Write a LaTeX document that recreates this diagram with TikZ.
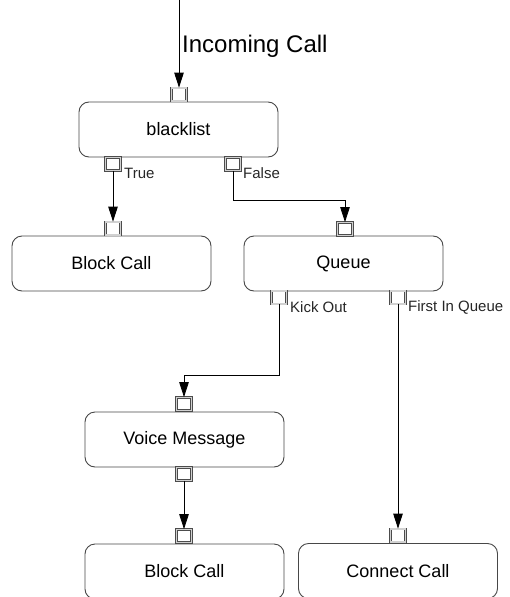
\documentclass[tikz,border=0pt]{standalone}
\usepackage{fontspec}
\setmainfont{Liberation Sans}
\usetikzlibrary{arrows.meta}

\tikzset{
  stepbox/.style={rectangle, rounded corners=10pt, draw=black!72, line width=0.9pt,
    fill=white, minimum width=199pt, minimum height=55pt, inner sep=0pt,
    font=\fontsize{18}{20}\selectfont},
  port/.style={rectangle, inner sep=0pt, minimum width=15pt, minimum height=13pt,
    draw=black!70, double=black!18, double distance=1.4pt, line width=0.75pt, fill=white},
  wire/.style={draw=black, line width=0.8pt},
  flow/.style={wire, -{Triangle[length=15pt,width=9.5pt]}},
  tag/.style={font=\fontsize{15}{17}\selectfont, inner sep=0pt, anchor=west, text=black!85},
}

\begin{document}
\begin{tikzpicture}[x=1pt,y=-1pt]
  \useasboundingbox (0,0) rectangle (509,597);
  \clip (0,0) rectangle (509,597);

  % processing steps
  \node[stepbox] (blacklist) at (178.5,129.5) {blacklist};
  \node[stepbox] (block1)    at (111.5,263.5) {Block Call};
  \node[stepbox] (queue)     at (343.5,263.5) {Queue};
  \node[stepbox] (voice)     at (184.5,439.5) {Voice Message};
  \node[stepbox] (block2)    at (184.5,571.5) {Block Call};
  \node[stepbox] (connect)   at (398,571)     {Connect Call};

  % input and output ports
  \node[port] (bl-in)    at (179,94.5) {};
  \node[port] (bl-true)  at (113,164)  {};
  \node[port] (bl-false) at (233,164)  {};
  \node[port] (b1-in)    at (113,228.5) {};
  \node[port] (q-in)     at (345,229)  {};
  \node[port] (q-kick)   at (279,297.5) {};
  \node[port] (q-first)  at (398,297.5) {};
  \node[port] (vm-in)    at (184,404)  {};
  \node[port] (vm-out)   at (184,474)  {};
  \node[port] (b2-in)    at (184,536)  {};
  \node[port] (cc-in)    at (398,535.5) {};

  % port labels
  \node[tag] (t-true)  at (124,173) {True};
  \node[tag] (t-false) at (243,173) {False};
  \node[tag] (t-kick)  at (290,307) {Kick Out};
  \node[tag] (t-first) at (408,307) {First In Queue};
  \node[font=\fontsize{24}{26}\selectfont, inner sep=0pt, anchor=west] (title) at (182,46) {Incoming Call};

  % connectors
  \coordinate (start) at (179,0);
  \coordinate (f1) at (233,200);
  \coordinate (k1) at (279,375);

  \draw[flow] (start) -- (bl-in.north);
  \draw[flow] (bl-true.south) -- (b1-in.north);
  \draw[flow] (bl-false.south) -- (f1) -| (q-in.north);
  \draw[flow] (q-kick.south) -- (k1) -| (vm-in.north);
  \draw[flow] (q-first.south) -- (cc-in.north);
  \draw[flow] (vm-out.south) -- (b2-in.north);
\end{tikzpicture}
\end{document}
